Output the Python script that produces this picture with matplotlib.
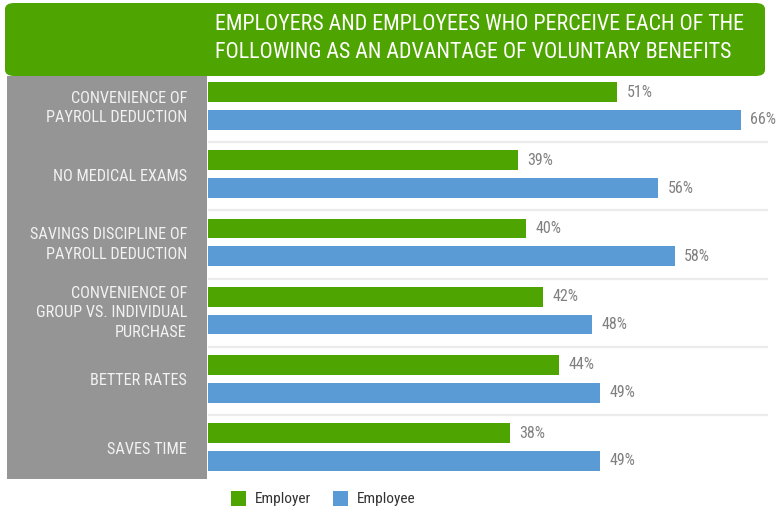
import matplotlib
matplotlib.use("Agg")
import matplotlib.pyplot as plt
from matplotlib.patches import FancyBboxPatch, Rectangle
from matplotlib import font_manager

# ---- data -------------------------------------------------------------
categories = [
    "CONVENIENCE OF\nPAYROLL DEDUCTION",
    "NO MEDICAL EXAMS",
    "SAVINGS DISCIPLINE OF\nPAYROLL DEDUCTION",
    "CONVENIENCE OF\nGROUP VS. INDIVIDUAL\nPURCHASE",
    "BETTER RATES",
    "SAVES TIME",
]
employer = [51, 39, 40, 42, 44, 38]
employee = [66, 56, 58, 48, 49, 49]
series_names = ["Employer", "Employee"]
title = ("EMPLOYERS AND EMPLOYEES WHO PERCEIVE EACH OF THE\n"
         "FOLLOWING AS AN ADVANTAGE OF VOLUNTARY BENEFITS")

# ---- style --------------------------------------------------------------
GREEN = "#4EA400"
BLUE = "#5B9BD5"
PANEL = "#959595"
VALUE_GRAY = "#808080"

available = {f.name for f in font_manager.fontManager.ttflist}
main_font = next((f for f in ["Roboto Condensed", "Liberation Sans Narrow",
                              "Arial Narrow", "Roboto"] if f in available),
                 "DejaVu Sans")
plt.rcParams["font.family"] = [main_font, "DejaVu Sans"]

W, H = 776, 511
fig = plt.figure(figsize=(W / 100, H / 100), dpi=100)
fig.patch.set_facecolor("white")


def fx(x):
    return x / W


def fy(y):
    return 1 - y / H


# title banner
banner = FancyBboxPatch((fx(5), fy(76)), fx(760), 73 / H,
                        boxstyle="round,pad=0,rounding_size=0.012",
                        transform=fig.transFigure, facecolor=GREEN,
                        edgecolor="none", zorder=1)
fig.patches.append(banner)
fig.text(fx(215), fy(38.5), title, color="white", fontsize=15.8,
         ha="left", va="center", linespacing=1.38, zorder=5)

# category panel on the left
panel = Rectangle((fx(7), fy(479)), fx(200), (479 - 76) / H,
                  transform=fig.transFigure, facecolor=PANEL,
                  edgecolor="none", zorder=1)
fig.patches.append(panel)

# ---- bars ----------------------------------------------------------------
ax = fig.add_axes([fx(208), fy(479), fx(776 - 208), (479 - 75) / H])
ax.set_facecolor("none")
n = len(categories)
pos = list(range(n))
off = 0.205
h = 0.29
ax.barh([p - off for p in pos], employer, height=h, color=GREEN, zorder=2)
ax.barh([p + off for p in pos], employee, height=h, color=BLUE, zorder=2)

for p, v in zip(pos, employer):
    ax.text(v + 1.15, p - off, f"{v}%", color=VALUE_GRAY, fontsize=11.5,
            va="center", ha="left")
for p, v in zip(pos, employee):
    ax.text(v + 1.15, p + off, f"{v}%", color=VALUE_GRAY, fontsize=11.5,
            va="center", ha="left")

for p in pos[:-1]:
    ax.axhline(p + 0.53, xmin=0, xmax=0.984, color="#ebebeb", lw=1.6, zorder=1)

ax.set_xlim(1.4, 70.3)
ax.set_ylim(5.469, -0.4545)
ax.axis("off")

# category labels drawn over the grey panel
for p, label in zip(pos, categories):
    yp = 106 + 68.2 * p + 2
    fig.text(fx(187), fy(yp), label, color="#f2f2f2", fontsize=11.7,
             ha="right", va="center", linespacing=1.38, zorder=5)

# legend
for i, (name, col) in enumerate(zip(series_names, [GREEN, BLUE])):
    x0 = 231 + i * 102
    fig.patches.append(Rectangle((fx(x0), fy(506)), fx(15), 15 / H,
                                 transform=fig.transFigure, facecolor=col,
                                 edgecolor="none", zorder=5))
    fig.text(fx(x0 + 24), fy(498.5), name, color="#333333", fontsize=11.1,
             ha="left", va="center", zorder=5)

fig.savefig("out.png", dpi=100, facecolor="white")
